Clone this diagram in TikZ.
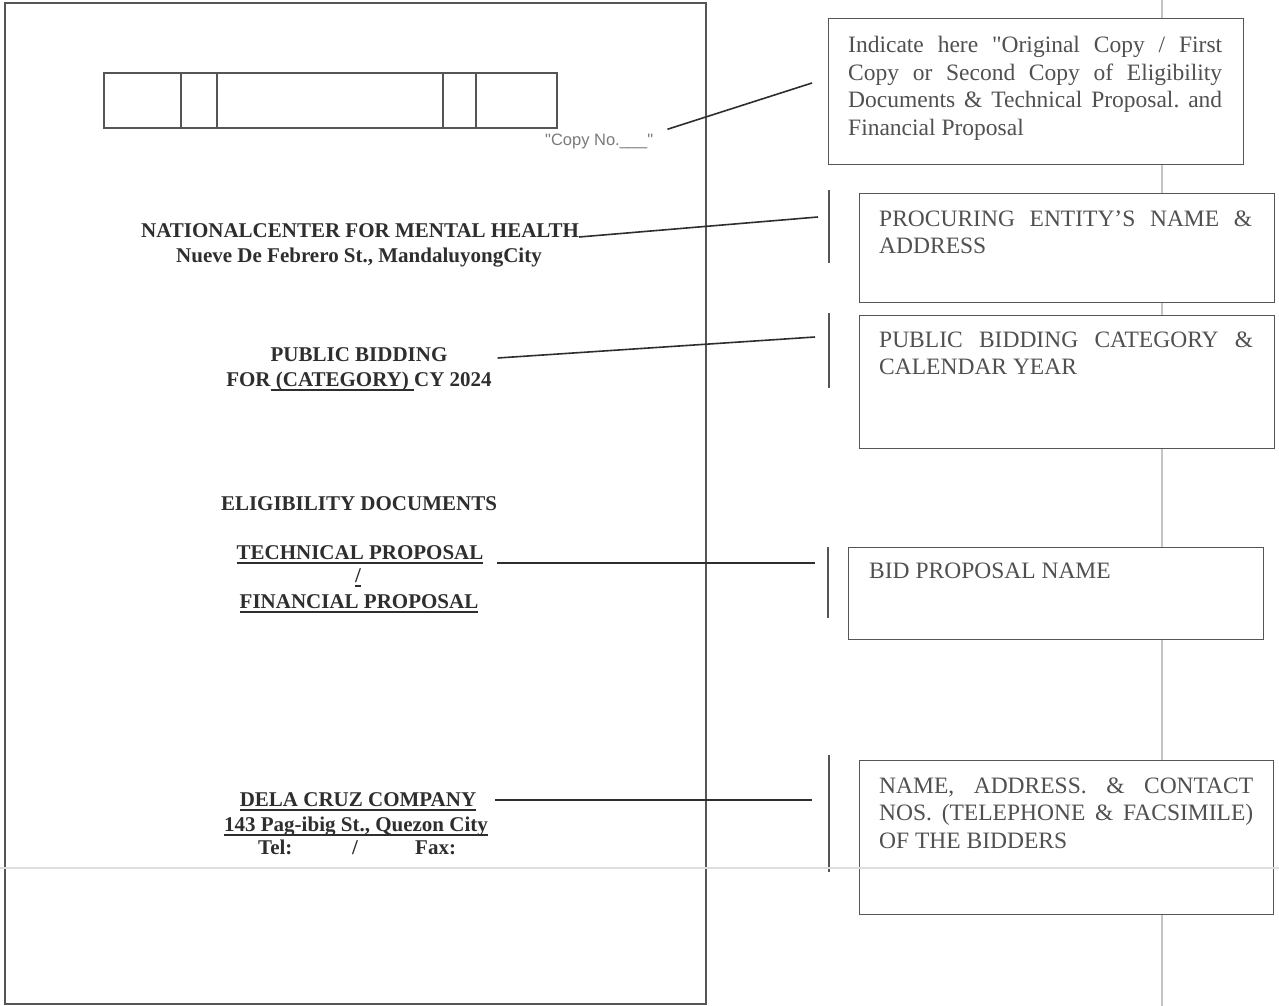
\documentclass[tikz,border=0pt]{standalone}
\usepackage{fontspec}
\setmainfont{Liberation Serif}
\newfontfamily\arialfont{Liberation Sans}
\newfontfamily\qfont{Liberation Serif}
\usetikzlibrary{calc}
\frenchspacing
\newcommand{\myul}[1]{\setbox0\hbox{#1}\rlap{\rule[-4.5pt]{\wd0}{1.6pt}}\box0}
\definecolor{ink}{HTML}{2E2E2E}
\definecolor{boxink}{HTML}{505050}
\definecolor{frame}{HTML}{555555}
\definecolor{guide}{HTML}{C4C4C4}
\definecolor{guideh}{HTML}{DEDEDE}
\definecolor{copyink}{HTML}{7A7A7A}
\begin{document}
\begin{tikzpicture}[x=1pt,y=-1pt,
  lbl/.style={inner sep=0pt, text=ink, font=\fontsize{21}{24}\selectfont\bfseries, anchor=base},
  lblw/.style={lbl, anchor=base west},
  boxframe/.style={draw=frame, line width=1.3pt, fill=white, anchor=north west, inner sep=0pt},
  boxtxt/.style={inner sep=0pt, anchor=north west, align=left, text=boxink, font=\fontsize{23.5}{27.5}\selectfont},
  leader/.style={draw=ink, line width=1.6pt},
  tickmark/.style={draw=frame, line width=1.2pt},
  pageframe/.style={draw=frame, line width=1.3pt},
]
\useasboundingbox (0,0) rectangle (1279,1006);

% vertical guide (behind boxes)
\draw[guide, line width=1.2pt] (1162,0) -- (1162,1006);

% page outline
\draw[pageframe] (5,3) rectangle (706,1004);

% header strip
\draw[frame, line width=1.2pt] (104,73) rectangle (557,128);
\foreach \xx in {181,217,443,476} \draw[frame, line width=1.2pt] (\xx,73) -- (\xx,128);

\node[inner sep=0pt, anchor=base west, text=copyink, font=\arialfont\fontsize{16.5}{18}\selectfont] (copyno) at (545,146) {"Copy No.\_\_\_"};

% left-hand texts
\node[lbl] (nat) at (360,237) {NATIONALCENTER FOR MENTAL HEALTH};
\node[lbl] (nueve) at (359,262) {Nueve De Febrero St., MandaluyongCity};
\node[lbl] (pb1) at (359,361) {PUBLIC BIDDING};
\node[lbl] (pb2) at (359,386) {FOR\myul{\ (CATEGORY)\ }CY 2024};
\node[lbl] (elig) at (359,510) {ELIGIBILITY DOCUMENTS};
\node[lbl] (tech) at (360,559) {\myul{TECHNICAL PROPOSAL}};
\node[lbl] (slash) at (358,582) {\myul{/}};
\node[lbl] (fin) at (359,608) {\myul{FINANCIAL PROPOSAL}};
\node[lbl] (dela) at (358,806) {\myul{DELA CRUZ COMPANY}};
\node[lbl] (addr) at (356,831) {\myul{143 Pag-ibig St., Quezon City}};
\node[lblw] (tel) at (258,854) {Tel:};
\node[lbl] (telslash) at (355,854) {/};
\node[lblw] (fax) at (415,854) {Fax:};

% right-hand boxes
\node[boxframe, minimum width=415pt, minimum height=146pt] (b1) at (828,18) {};
\node[boxtxt] (t1) at (848,36) {\makebox[374pt][s]{Indicate here {\qfont"}Original Copy / First}\\
\makebox[374pt][s]{Copy or Second Copy of Eligibility}\\
\makebox[374pt][s]{Documents \& Technical Proposal. and}\\
Financial Proposal};

\node[boxframe, minimum width=415pt, minimum height=109pt] (b2) at (859,193) {};
\node[boxtxt] (t2) at (879,210.5) {\makebox[373pt][s]{PROCURING ENTITY'S NAME \&}\\ ADDRESS};

\node[boxframe, minimum width=415pt, minimum height=133pt] (b3) at (859,315) {};
\node[boxtxt] (t3) at (879,331.5) {\makebox[374pt][s]{PUBLIC BIDDING CATEGORY \&}\\ CALENDAR YEAR};

\node[boxframe, minimum width=415pt, minimum height=92pt] (b4) at (848,547) {};
\node[boxtxt] (t4) at (869,562.5) {BID PROPOSAL NAME};

\node[boxframe, minimum width=414pt, minimum height=154pt] (b5) at (859,760) {};
\node[boxtxt] (t5) at (879,777.5) {\makebox[374pt][s]{NAME, ADDRESS. \& CONTACT}\\
\makebox[374pt][s]{NOS. (TELEPHONE \& FACSIMILE)}\\
OF THE BIDDERS};

% tick marks beside boxes
\draw[tickmark] (829,190) -- (829,263);
\draw[tickmark] (829,313) -- (829,388);
\draw[tickmark] (828,547) -- (828,618);
\draw[tickmark] (829,755) -- (829,872);

% leader end points
\coordinate (c1) at (812,83);
\coordinate (c2) at (818,217);
\coordinate (c3) at (815,337);
\coordinate (c4) at (815,563);
\coordinate (c5) at (812,800);

% leader lines
\draw[leader] ($(copyno.north east)+(14,-5)$) -- (c1);
\draw[leader] (nat.base east) -- (c2);
\draw[leader] ($(pb1.base east)+(50,-3)$) -- (c3);
\draw[leader] ($(tech.base east)+(13,4)$) -- (c4);
\draw[leader] ($(dela.base east)+(19,-6)$) -- (c5);

% horizontal guide (over everything)
\draw[guideh, line width=2pt] (0,868) -- (1279,868);
\end{tikzpicture}
\end{document}
